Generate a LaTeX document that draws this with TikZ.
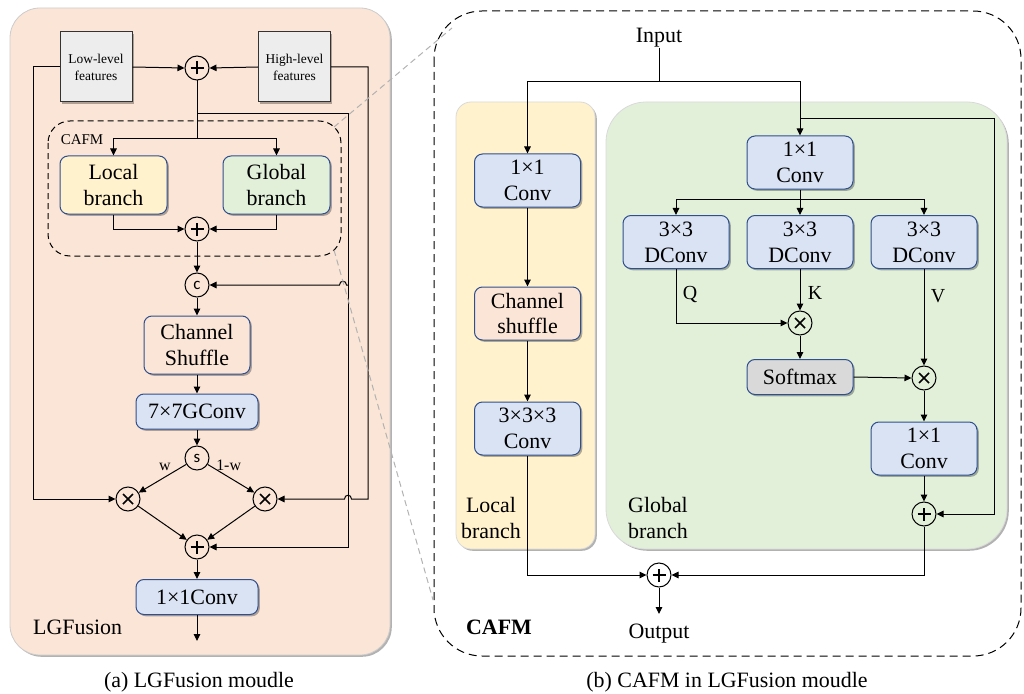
\documentclass[tikz,border=0pt]{standalone}
\usepackage{fontspec}
\setmainfont{Liberation Serif}
\newfontfamily\opfont{Carlito}
\usetikzlibrary{arrows.meta,shadows}
\definecolor{peach}{HTML}{FBE5D6}
\definecolor{yel}{HTML}{FFF2CC}
\definecolor{grn}{HTML}{E2F0D9}
\definecolor{blu}{HTML}{DAE3F3}
\definecolor{edge}{HTML}{2F4F8F}
\definecolor{feat}{HTML}{EDEDED}
\definecolor{softg}{HTML}{D9D9D9}
\newcommand\setfs[2]{\fontsize{#1}{#2}\selectfont}

\tikzset{
  wire/.style={line width=1bp},
  flow/.style={line width=1bp, -{Triangle[length=7bp,width=6.5bp]}},
  link/.style={line width=1bp, dashed, dash pattern=on 6bp off 4bp, gray!60},
  shadowed/.style={drop shadow={shadow xshift=1.8bp,shadow yshift=-1.8bp,fill=black,opacity=0.3}},
  blk/.style={draw=edge, line width=1bp, rounded corners=8bp, align=center,
    inner sep=0pt, shadowed, text=black, font=\setfs{22}{26}},
  bluebox/.style={blk, fill=blu, minimum width=106bp, minimum height=53bp},
  widebox/.style={blk, fill=blu, minimum width=122bp, minimum height=35bp},
  featbox/.style={draw=black!80, line width=1bp, fill=feat, align=center, inner sep=0pt,
    shadowed, minimum width=72bp, minimum height=70bp, font=\setfs{13.5}{17}},
  op/.style={circle, draw, line width=1bp, minimum size=24bp, inner sep=0pt, fill=none},
  plusop/.style={op, path picture={
    \draw[line width=1.7bp] (path picture bounding box.center) ++(-6.5bp,0) -- ++(13bp,0)
      (path picture bounding box.center) ++(0,-6.5bp) -- ++(0,13bp);}},
  timesop/.style={op, path picture={
    \draw[line width=1.7bp] (path picture bounding box.center) ++(-5bp,-5bp) -- ++(10bp,10bp)
      (path picture bounding box.center) ++(-5bp,5bp) -- ++(10bp,-10bp);}},
  letterop/.style={op, font=\opfont\setfs{17}{17}},
  lbl/.style={inner sep=0pt, align=center, font=\setfs{22}{26}},
}

\begin{document}
\begin{tikzpicture}[x=1bp,y=-1bp]
\useasboundingbox (0,0) rectangle (1024,694);

% ---------------- (a) LGFusion module ----------------
\draw[fill=peach, draw=gray!40, line width=0.8bp, rounded corners=30bp, shadowed] (10,8) rectangle (390,655);

\node[featbox] (low)  at (96,67)    {Low-level\\features};
\node[featbox] (high) at (294.5,67) {High-level\\features};
\node[plusop] (pTop) at (197,68) {};

\draw[dashed, dash pattern=on 6bp off 4bp, line width=1bp, rounded corners=22bp] (48,121) rectangle (341,256);
\node[inner sep=0pt, font=\setfs{15}{15}] (cafmA) at (82,140) {CAFM};

\node[blk, fill=yel, minimum width=107bp, minimum height=58bp] (local)  at (113.5,185) {Local\\branch};
\node[blk, fill=grn, minimum width=107bp, minimum height=58bp] (global) at (276.5,185) {Global\\branch};
\node[plusop] (pMid) at (197,229) {};
\node[letterop] (cat) at (197,285) {c};
\node[blk, fill=peach, minimum width=106bp, minimum height=58bp] (shuf) at (197,345) {Channel\\Shuffle};
\node[widebox] (gconv) at (197,411.5) {7×7GConv};
\node[letterop] (sel) at (197,458) {s};
\node[timesop] (mL) at (128,499) {};
\node[timesop] (mR) at (265,499) {};
\node[plusop] (pBot) at (197,547) {};
\node[widebox] (conv1) at (197,597) {1×1Conv};
\coordinate (outA) at (197,641);
\node[lbl, anchor=west] (lgname) at (33,627) {LGFusion};

\coordinate (splitTop) at (197,114);
\coordinate (splitCafm) at (197,139);

% inputs into the first sum and the skip wires
\draw[flow] (low.east) -- (pTop.west);
\draw[flow] (high.west) -- (pTop.east);
\draw[flow] (low.west) -- (33,67) -- (33,499) -- (mL.west);
\draw[flow] (high.east) -- (368,67) -- (368,499) -- (351.5,499)
  .. controls (351.5,494) and (344.5,494) .. (344.5,499) -- (mR.east);
\draw[wire] (pTop.south) -- (splitCafm);
\draw[flow] (splitTop) -- (348,114) -- (348,547) -- (pBot.east);
\draw[flow] (348,285) -- (346.5,285) .. controls (346.5,280) and (339.5,280) .. (339.5,285) -- (cat.east);

% CAFM branches
\draw[flow] (splitCafm) -- (113.5,139) -- (local.north);
\draw[flow] (splitCafm) -- (276.5,139) -- (global.north);
\draw[flow] (local.south) -- (113.5,229) -- (pMid.west);
\draw[flow] (global.south) -- (276.5,229) -- (pMid.east);

% main trunk
\draw[flow] (pMid.south) -- (cat.north);
\draw[flow] (cat.south) -- (shuf.north);
\draw[flow] (shuf.south) -- (gconv.north);
\draw[flow] (gconv.south) -- (sel.north);
\draw[flow] (sel) -- (mL) node[pos=0.45, above=3bp, font=\setfs{16}{16}] {w};
\draw[flow] (sel) -- (mR) node[pos=0.45, above=3bp, font=\setfs{16}{16}] {1-w};
\draw[flow] (mL) -- (pBot);
\draw[flow] (mR) -- (pBot);
\draw[flow] (pBot.south) -- (conv1.north);
\draw[flow] (conv1.south) -- (outA);

\node[lbl] (capA) at (199,682) {(a) LGFusion moudle};

% ---------------- (b) CAFM ----------------
\draw[dashed, dash pattern=on 8bp off 5bp, line width=1bp, rounded corners=48bp] (434,11) rectangle (1021,656);

\draw[fill=yel, draw=gray!30, line width=0.8bp, rounded corners=15bp, shadowed] (456,102) rectangle (595,549);
\draw[fill=grn, draw=gray!30, line width=0.8bp, rounded corners=40bp, shadowed] (606,102) rectangle (1007,549);

\node[lbl] (input) at (659,38) {Input};
\coordinate (splitIn) at (659,82);

\node[bluebox] (lc1) at (527.5,180.5) {1×1\\Conv};
\node[blk, fill=peach, minimum width=106bp, minimum height=53bp] (lcs) at (527.5,313.5) {Channel\\shuffle};
\node[bluebox] (lc3) at (527.5,428.5) {3×3×3\\Conv};
\node[lbl] (localname) at (491,518) {Local\\branch};

\node[bluebox] (gc1) at (800,162.5) {1×1\\Conv};
\node[bluebox] (dq) at (676,242) {3×3\\DConv};
\node[bluebox] (dk) at (800,242) {3×3\\DConv};
\node[bluebox] (dv) at (924,242) {3×3\\DConv};
\node[timesop] (mQK) at (800,323) {};
\node[blk, fill=softg, minimum width=106bp, minimum height=35bp] (soft) at (800,377) {Softmax};
\node[timesop] (mV) at (924,378) {};
\node[bluebox] (gc2) at (924,448.5) {1×1\\Conv};
\node[plusop] (pG) at (924,514) {};
\node[lbl] (globalname) at (658,518) {Global\\branch};

\node[plusop] (pOut) at (659,575) {};
\coordinate (outB) at (659,614);
\node[lbl] (output) at (659,634) {Output};
\node[lbl, font=\bfseries\setfs{22}{26}] (cafmB) at (499,627) {CAFM};

\coordinate (splitG) at (800,119);
\coordinate (splitQKV) at (800,199);

\draw[wire] (input.south) -- (splitIn);
\draw[flow] (splitIn) -- (527.5,82) -- (lc1.north);
\draw[flow] (splitIn) -- (800,82) -- (gc1.north);
\draw[flow] (splitG) -- (994,119) -- (994,514) -- (pG.east);

\draw[flow] (lc1.south) -- (lcs.north);
\draw[flow] (lcs.south) -- (lc3.north);
\draw[flow] (lc3.south) -- (527.5,575) -- (pOut.west);

\draw[wire] (gc1.south) -- (splitQKV);
\draw[flow] (splitQKV) -- (676,199) -- (dq.north);
\draw[flow] (splitQKV) -- (dk.north);
\draw[flow] (splitQKV) -- (924,199) -- (dv.north);

\draw[flow] (dq.south) -- (676,323) -- (mQK.west);
\node[lbl, font=\setfs{20}{20}] (qlab) at (690,295) {Q};
\draw[flow] (dk.south) -- (mQK.north);
\node[lbl, font=\setfs{20}{20}] (klab) at (815,293) {K};
\draw[flow] (dv.south) -- (mV.north);
\node[lbl, font=\setfs{20}{20}] (vlab) at (938,296) {V};

\draw[flow] (mQK.south) -- (soft.north);
\draw[flow] (soft.east) -- (mV.west);
\draw[flow] (mV.south) -- (gc2.north);
\draw[flow] (gc2.south) -- (pG.north);
\draw[flow] (pG.south) -- (924,575) -- (pOut.east);
\draw[flow] (pOut.south) -- (outB);

\node[lbl] (capB) at (727,682) {(b) CAFM in LGFusion moudle};

% zoom guides from the small CAFM frame to the large one
\draw[link] (334,127) -- (452,28);
\draw[link] (334,250) -- (433,600);

\end{tikzpicture}
\end{document}
